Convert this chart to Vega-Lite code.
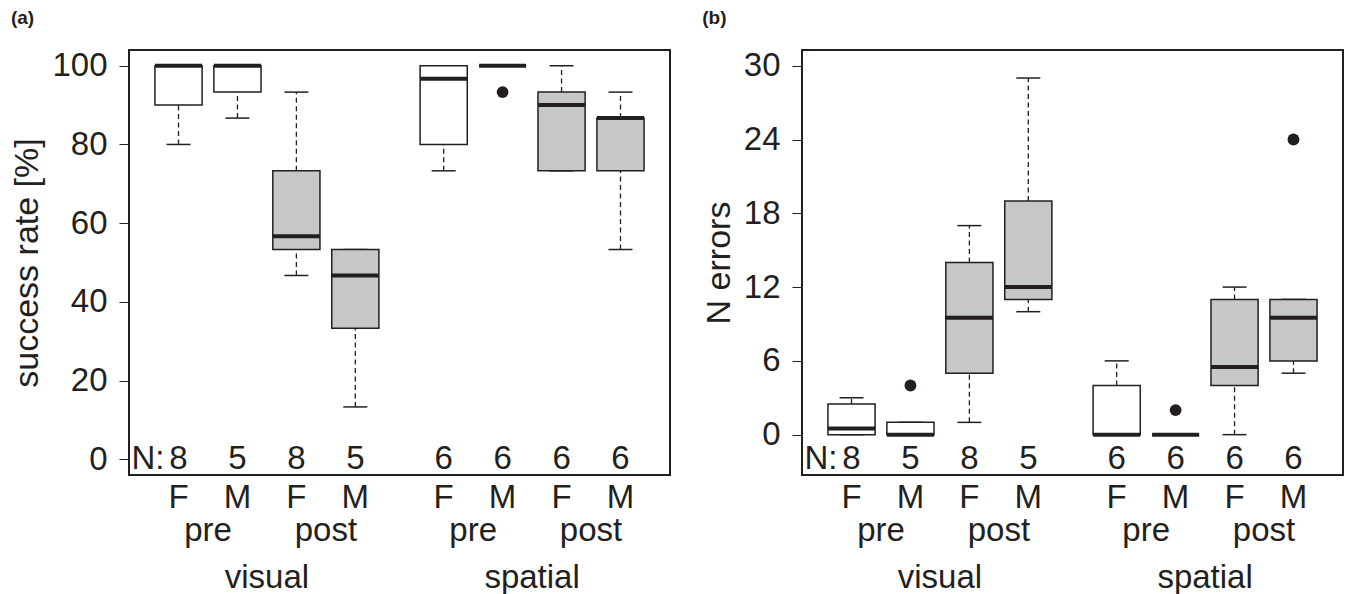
{
  "$schema": "https://vega.github.io/schema/vega-lite/v6.json",
  "padding": {"left": 9, "top": 7, "right": 0, "bottom": 0},
  "config": {
    "font": "Liberation Sans",
    "view": {"stroke": "#231f20", "strokeWidth": 2},
    "axis": {"labelColor": "#231f20", "titleColor": "#231f20", "tickColor": "#231f20", "grid": false, "domain": false, "labelFont": "Liberation Sans", "titleFont": "Liberation Sans"},
    "title": {"color": "#231f20", "font": "Liberation Sans"},
    "text": {"font": "Liberation Sans", "fontSize": 33, "color": "#231f20"}
  },
  "datasets": {
    "stats": [
      {"panel": "a", "modality": "visual", "phase": "pre", "sex": "F", "cond": "pre F", "lower": 80, "q1": 90, "median": 100, "q3": 100, "upper": 100, "n": 8},
      {"panel": "a", "modality": "visual", "phase": "pre", "sex": "M", "cond": "pre M", "lower": 86.7, "q1": 93.3, "median": 100, "q3": 100, "upper": 100, "n": 5},
      {"panel": "a", "modality": "visual", "phase": "post", "sex": "F", "cond": "post F", "lower": 46.7, "q1": 53.3, "median": 56.7, "q3": 73.3, "upper": 93.3, "n": 8},
      {"panel": "a", "modality": "visual", "phase": "post", "sex": "M", "cond": "post M", "lower": 13.3, "q1": 33.3, "median": 46.7, "q3": 53.3, "upper": 53.3, "n": 5},
      {"panel": "a", "modality": "spatial", "phase": "pre", "sex": "F", "cond": "pre F", "lower": 73.3, "q1": 80, "median": 96.7, "q3": 100, "upper": 100, "n": 6},
      {"panel": "a", "modality": "spatial", "phase": "pre", "sex": "M", "cond": "pre M", "lower": 100, "q1": 100, "median": 100, "q3": 100, "upper": 100, "n": 6},
      {"panel": "a", "modality": "spatial", "phase": "post", "sex": "F", "cond": "post F", "lower": 73.3, "q1": 73.3, "median": 90, "q3": 93.3, "upper": 100, "n": 6},
      {"panel": "a", "modality": "spatial", "phase": "post", "sex": "M", "cond": "post M", "lower": 53.3, "q1": 73.3, "median": 86.7, "q3": 86.7, "upper": 93.3, "n": 6},
      {"panel": "b", "modality": "visual", "phase": "pre", "sex": "F", "cond": "pre F", "lower": 0, "q1": 0, "median": 0.5, "q3": 2.5, "upper": 3, "n": 8},
      {"panel": "b", "modality": "visual", "phase": "pre", "sex": "M", "cond": "pre M", "lower": 0, "q1": 0, "median": 0, "q3": 1, "upper": 1, "n": 5},
      {"panel": "b", "modality": "visual", "phase": "post", "sex": "F", "cond": "post F", "lower": 1, "q1": 5, "median": 9.5, "q3": 14, "upper": 17, "n": 8},
      {"panel": "b", "modality": "visual", "phase": "post", "sex": "M", "cond": "post M", "lower": 10, "q1": 11, "median": 12, "q3": 19, "upper": 29, "n": 5},
      {"panel": "b", "modality": "spatial", "phase": "pre", "sex": "F", "cond": "pre F", "lower": 0, "q1": 0, "median": 0, "q3": 4, "upper": 6, "n": 6},
      {"panel": "b", "modality": "spatial", "phase": "pre", "sex": "M", "cond": "pre M", "lower": 0, "q1": 0, "median": 0, "q3": 0, "upper": 0, "n": 6},
      {"panel": "b", "modality": "spatial", "phase": "post", "sex": "F", "cond": "post F", "lower": 0, "q1": 4, "median": 5.5, "q3": 11, "upper": 12, "n": 6},
      {"panel": "b", "modality": "spatial", "phase": "post", "sex": "M", "cond": "post M", "lower": 5, "q1": 6, "median": 9.5, "q3": 11, "upper": 11, "n": 6}
    ],
    "outliers": [
      {"panel": "a", "modality": "spatial", "cond": "pre M", "value": 93.3},
      {"panel": "b", "modality": "visual", "cond": "pre M", "value": 4},
      {"panel": "b", "modality": "spatial", "cond": "pre M", "value": 2},
      {"panel": "b", "modality": "spatial", "cond": "post M", "value": 24}
    ]
  },
  "spacing": 30,
  "hconcat": [
    {
      "width": 541,
      "height": 425,
      "title": {"text": "(a)", "anchor": "start", "frame": "bounds", "fontSize": 19, "fontWeight": "bold", "offset": 22, "dx": 0},
      "encoding": {
        "x": {"field": "modality", "type": "nominal", "sort": ["visual", "spatial"],
              "scale": {"domain": ["visual", "spatial"], "paddingInner": 0.111, "paddingOuter": 0.0756},
              "axis": {"title": null, "ticks": false, "labelAngle": 0, "labelFontSize": 33, "labelPadding": 112, "labelBaseline": "alphabetic"}},
        "xOffset": {"field": "cond", "type": "nominal", "scale": {"domain": ["pre F", "pre M", "post F", "post M"], "paddingInner": 0.2, "paddingOuter": 0.1}}
      },
      "layer": [
        {
          "data": {"name": "stats"},
          "transform": [{"filter": "datum.panel === 'a'"}],
          "layer": [
            {"mark": {"type": "rule", "strokeDash": [5, 3.5], "strokeWidth": 1.3, "color": "#231f20"},
             "encoding": {"y": {"field": "lower", "type": "quantitative", "scale": {"domain": [-4, 104], "nice": false, "zero": false},
                                "axis": {"title": "success rate [%]", "titleFontSize": 34, "titleFontWeight": "normal", "labelFontSize": 33, "tickSize": 10, "labelPadding": 12, "titlePadding": 7, "values": [0, 20, 40, 60, 80, 100]}},
                          "y2": {"field": "q1"}}},
            {"mark": {"type": "rule", "strokeDash": [5, 3.5], "strokeWidth": 1.3, "color": "#231f20"},
             "encoding": {"y": {"field": "q3", "type": "quantitative"}, "y2": {"field": "upper"}}},
            {"mark": {"type": "tick", "size": 24, "thickness": 1.5, "color": "#231f20", "opacity": 1},
             "encoding": {"y": {"field": "lower", "type": "quantitative"}}},
            {"mark": {"type": "tick", "size": 24, "thickness": 1.5, "color": "#231f20", "opacity": 1},
             "encoding": {"y": {"field": "upper", "type": "quantitative"}}},
            {"mark": {"type": "bar", "stroke": "#231f20", "strokeWidth": 1.5},
             "encoding": {"y": {"field": "q1", "type": "quantitative"}, "y2": {"field": "q3"},
                          "fill": {"field": "phase", "type": "nominal", "scale": {"domain": ["pre", "post"], "range": ["#ffffff", "#c6c7c9"]}, "legend": null}}},
            {"mark": {"type": "tick", "size": 47, "thickness": 4, "color": "#231f20", "opacity": 1},
             "encoding": {"y": {"field": "median", "type": "quantitative"}}},
            {"mark": {"type": "text", "baseline": "middle", "align": "center"},
             "encoding": {"y": {"datum": 0, "type": "quantitative"}, "text": {"field": "n"}}},
            {"transform": [{"filter": "datum.modality === 'visual' && datum.cond === 'pre F'"}],
             "mark": {"type": "text", "baseline": "middle", "align": "right", "dx": -14},
             "encoding": {"y": {"datum": 0, "type": "quantitative"}, "text": {"value": "N:"}}},
            {"mark": {"type": "text", "baseline": "alphabetic", "align": "center"},
             "encoding": {"y": {"datum": -12.4, "type": "quantitative"}, "text": {"field": "sex"}}},
            {"transform": [{"filter": "datum.sex === 'F'"}],
             "mark": {"type": "text", "baseline": "alphabetic", "align": "center", "dx": 29.5},
             "encoding": {"y": {"datum": -20.8, "type": "quantitative"}, "text": {"field": "phase"}}}
          ]
        },
        {
          "data": {"name": "outliers"},
          "transform": [{"filter": "datum.panel === 'a'"}],
          "mark": {"type": "point", "filled": true, "size": 140, "color": "#231f20", "opacity": 1},
          "encoding": {"y": {"field": "value", "type": "quantitative"}}
        }
      ]
    },
    {
      "width": 541,
      "height": 425,
      "title": {"text": "(b)", "anchor": "start", "frame": "bounds", "fontSize": 19, "fontWeight": "bold", "offset": 22, "dx": 0},
      "encoding": {
        "x": {"field": "modality", "type": "nominal", "sort": ["visual", "spatial"],
              "scale": {"domain": ["visual", "spatial"], "paddingInner": 0.111, "paddingOuter": 0.0756},
              "axis": {"title": null, "ticks": false, "labelAngle": 0, "labelFontSize": 33, "labelPadding": 112, "labelBaseline": "alphabetic"}},
        "xOffset": {"field": "cond", "type": "nominal", "scale": {"domain": ["pre F", "pre M", "post F", "post M"], "paddingInner": 0.2, "paddingOuter": 0.1}}
      },
      "layer": [
        {
          "data": {"name": "stats"},
          "transform": [{"filter": "datum.panel === 'b'"}],
          "layer": [
            {"mark": {"type": "rule", "strokeDash": [5, 3.5], "strokeWidth": 1.3, "color": "#231f20"},
             "encoding": {"y": {"field": "lower", "type": "quantitative", "scale": {"domain": [-3.28, 31.28], "nice": false, "zero": false},
                                "axis": {"title": "N errors", "titleFontSize": 34, "titleFontWeight": "normal", "labelFontSize": 33, "tickSize": 10, "labelPadding": 12, "titlePadding": 7, "values": [0, 6, 12, 18, 24, 30]}},
                          "y2": {"field": "q1"}}},
            {"mark": {"type": "rule", "strokeDash": [5, 3.5], "strokeWidth": 1.3, "color": "#231f20"},
             "encoding": {"y": {"field": "q3", "type": "quantitative"}, "y2": {"field": "upper"}}},
            {"mark": {"type": "tick", "size": 24, "thickness": 1.5, "color": "#231f20", "opacity": 1},
             "encoding": {"y": {"field": "lower", "type": "quantitative"}}},
            {"mark": {"type": "tick", "size": 24, "thickness": 1.5, "color": "#231f20", "opacity": 1},
             "encoding": {"y": {"field": "upper", "type": "quantitative"}}},
            {"mark": {"type": "bar", "stroke": "#231f20", "strokeWidth": 1.5},
             "encoding": {"y": {"field": "q1", "type": "quantitative"}, "y2": {"field": "q3"},
                          "fill": {"field": "phase", "type": "nominal", "scale": {"domain": ["pre", "post"], "range": ["#ffffff", "#c6c7c9"]}, "legend": null}}},
            {"mark": {"type": "tick", "size": 47, "thickness": 4, "color": "#231f20", "opacity": 1},
             "encoding": {"y": {"field": "median", "type": "quantitative"}}},
            {"mark": {"type": "text", "baseline": "middle", "align": "center"},
             "encoding": {"y": {"datum": -2, "type": "quantitative"}, "text": {"field": "n"}}},
            {"transform": [{"filter": "datum.modality === 'visual' && datum.cond === 'pre F'"}],
             "mark": {"type": "text", "baseline": "middle", "align": "right", "dx": -14},
             "encoding": {"y": {"datum": -2, "type": "quantitative"}, "text": {"value": "N:"}}},
            {"mark": {"type": "text", "baseline": "alphabetic", "align": "center"},
             "encoding": {"y": {"datum": -5.96, "type": "quantitative"}, "text": {"field": "sex"}}},
            {"transform": [{"filter": "datum.sex === 'F'"}],
             "mark": {"type": "text", "baseline": "alphabetic", "align": "center", "dx": 29.5},
             "encoding": {"y": {"datum": -8.64, "type": "quantitative"}, "text": {"field": "phase"}}}
          ]
        },
        {
          "data": {"name": "outliers"},
          "transform": [{"filter": "datum.panel === 'b'"}],
          "mark": {"type": "point", "filled": true, "size": 140, "color": "#231f20", "opacity": 1},
          "encoding": {"y": {"field": "value", "type": "quantitative"}}
        }
      ]
    }
  ]
}
